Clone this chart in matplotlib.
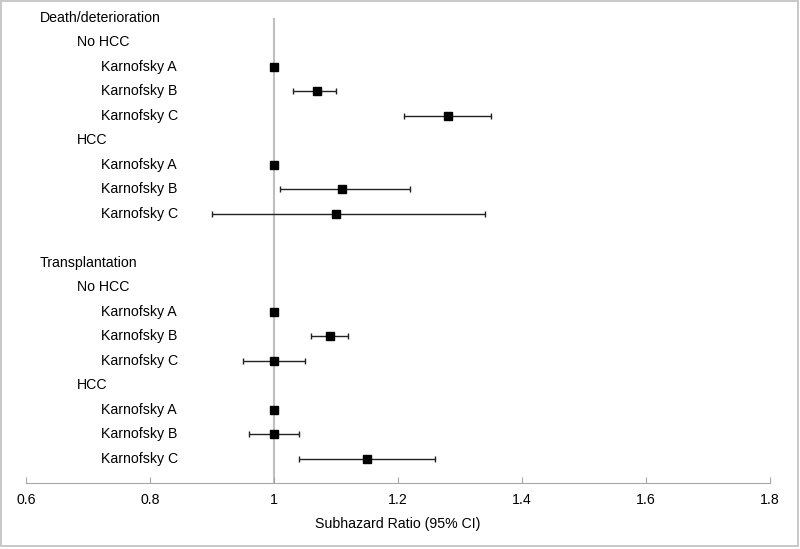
import numpy as np
import matplotlib.pyplot as plt
from matplotlib.patches import Rectangle

plt.rcParams['font.family'] = ['Liberation Sans', 'DejaVu Sans']

# rows from top to bottom: (label, indent level)
labels = ["Death/deterioration", "No HCC", "Karnofsky A", "Karnofsky B", "Karnofsky C",
          "HCC", "Karnofsky A", "Karnofsky B", "Karnofsky C", "",
          "Transplantation", "No HCC", "Karnofsky A", "Karnofsky B", "Karnofsky C",
          "HCC", "Karnofsky A", "Karnofsky B", "Karnofsky C"]
levels = [0, 1, 2, 2, 2, 1, 2, 2, 2, 0, 0, 1, 2, 2, 2, 1, 2, 2, 2]

# estimates (None where the row has no point)
est = [None, None, 1.00, 1.07, 1.28, None, 1.00, 1.11, 1.10, None,
       None, None, 1.00, 1.09, 1.00, None, 1.00, 1.00, 1.15]
lo = [None, None, 1.00, 1.03, 1.21, None, 1.00, 1.01, 0.90, None,
      None, None, 1.00, 1.06, 0.95, None, 1.00, 0.96, 1.04]
hi = [None, None, 1.00, 1.10, 1.35, None, 1.00, 1.22, 1.34, None,
      None, None, 1.00, 1.12, 1.05, None, 1.00, 1.04, 1.26]

xticks = [0.6, 0.8, 1.0, 1.2, 1.4, 1.6, 1.8]
xticklabels = ["0.6", "0.8", "1", "1.2", "1.4", "1.6", "1.8"]


def main():
    fig = plt.figure(figsize=(8.0, 5.49), dpi=100)
    ax = fig.add_axes([0.0325, 0.12, 0.93, 0.848])

    ax.axvline(1.0, color="#bfbfbf", lw=1.5, zorder=1)

    rows = [i for i, e in enumerate(est) if e is not None]
    x = np.array([est[i] for i in rows])
    xerr = np.array([[est[i] - lo[i] for i in rows], [hi[i] - est[i] for i in rows]])
    ax.errorbar(x, rows, xerr=xerr, fmt="s", color="black", ecolor="#222222",
                markersize=5.5, elinewidth=1.0, capsize=2.5, capthick=1.0, zorder=3)

    indent = [0.0188, 0.0685, 0.1008]
    for i, (lab, lev) in enumerate(zip(labels, levels)):
        ax.text(indent[lev], i, lab, transform=ax.get_yaxis_transform(),
                ha="left", va="center", fontsize=10.2, clip_on=False)

    ax.set_xlim(0.6, 1.8)
    ax.set_ylim(19.0, 0.0)
    ax.set_xticks(xticks)
    ax.set_xticklabels(xticklabels, fontsize=10.2)
    ax.set_yticks([])
    for s in ["top", "left", "right"]:
        ax.spines[s].set_visible(False)
    ax.spines["bottom"].set_color("#a6a6a6")
    ax.tick_params(axis="x", direction="in", length=4, color="#a6a6a6", pad=7)
    ax.set_xlabel("Subhazard Ratio (95% CI)", fontsize=10.2, labelpad=7)

    fig.patches.append(Rectangle((0.001, 0.006), 0.997, 0.992, transform=fig.transFigure,
                                 fill=False, edgecolor="#bfbfbf", lw=1.2))
    fig.savefig("out.png", dpi=100)
    return 0


if __name__ == "__main__":
    main()
